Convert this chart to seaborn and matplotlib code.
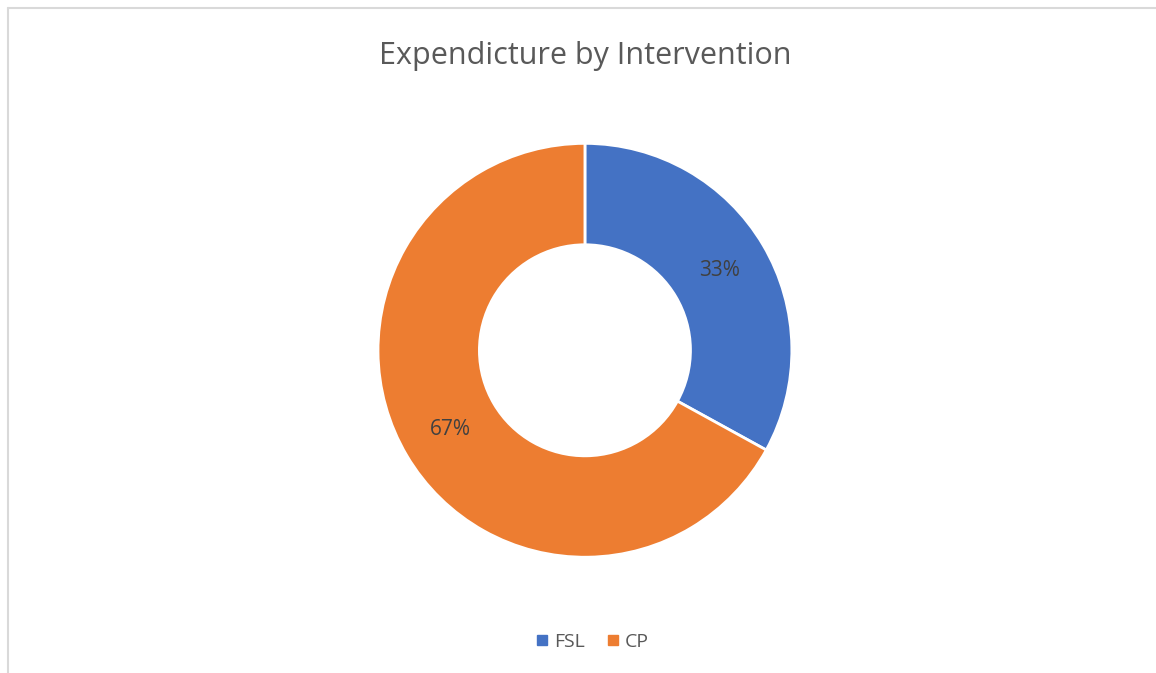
import matplotlib
matplotlib.use("Agg")
import numpy as np
import matplotlib.pyplot as plt
import seaborn as sns
from matplotlib.lines import Line2D

categories = ["FSL", "CP"]
values = [33, 67]
colors = ["#4472C4", "#ED7D31"]

sns.set_style("white")
plt.rcParams['font.family'] = ['Open Sans', 'DejaVu Sans']

fig = plt.figure(figsize=(11.56, 6.73), dpi=100)
ax = fig.add_axes([0.327, 0.172, 0.358, 0.615])

wedges, texts = ax.pie(values, colors=colors, startangle=90, counterclock=False,
                       radius=1.0, wedgeprops=dict(width=0.49, edgecolor="white", linewidth=2))
for w, v in zip(wedges, values):
    ang = np.deg2rad((w.theta1 + w.theta2) / 2)
    r = 1.0 - 0.49 / 2
    ax.text(r * np.cos(ang), r * np.sin(ang), f"{v}%", ha="center", va="center",
            fontsize=15, color="#404040")
ax.set_xlim(-1, 1)
ax.set_ylim(-1, 1)
ax.set_aspect("equal")
ax.axis("off")

fig.text(0.506, 0.917, "Expendicture by Intervention", ha="center", va="center",
         fontsize=22, color="#595959")

handles = [Line2D([0], [0], marker="s", linestyle="", markersize=7.5,
                  markerfacecolor=c, markeredgecolor=c) for c in colors]
fig.legend(handles, categories, loc="center", bbox_to_anchor=(0.511, 0.046), ncol=2,
           frameon=False, fontsize=14, handletextpad=0.15, columnspacing=0.9,
           labelcolor="#595959", handlelength=1.0)

# chart area border (top and left visible in the crop)
fig.add_artist(Line2D([0.007, 1.0], [0.988, 0.988], transform=fig.transFigure,
                      color="#D9D9D9", linewidth=1.5))
fig.add_artist(Line2D([0.007, 0.007], [0.0, 0.988], transform=fig.transFigure,
                      color="#D9D9D9", linewidth=1.5))

fig.savefig("out.png", dpi=100, facecolor="white")
